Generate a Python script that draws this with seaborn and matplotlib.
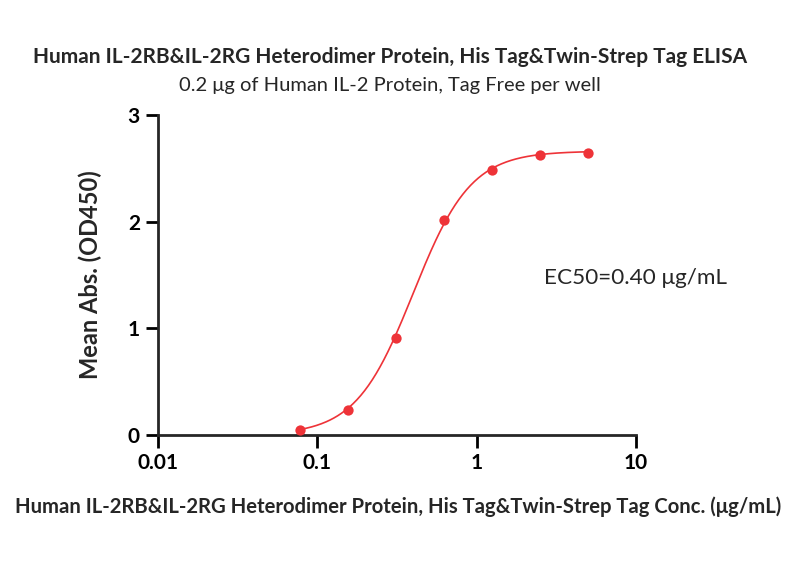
#!/usr/bin/env python3
# -*- coding: utf-8 -*-

#::: plotting settings
import seaborn as sns

sns.set_theme(context='paper', style='ticks')

#::: modules
import numpy as np
import pandas as pd
import matplotlib.pyplot as plt

plt.rcParams['font.family'] = ['Lato', 'DejaVu Sans']

###############################################################################
#::: data
###############################################################################
conc = [0.078, 0.156, 0.3125, 0.625, 1.25, 2.5, 5.0]          # ug/mL
od450 = [0.05, 0.23, 0.91, 2.01, 2.48, 2.62, 2.64]             # mean abs

# 4PL fit parameters
fit_bottom = 0.0
fit_top = 2.66
fit_ec50 = 0.40
fit_hill = 2.4

xticks = [0.01, 0.1, 1, 10]
xticklabels = ['0.01', '0.1', '1', '10']
yticks = [0, 1, 2, 3]

title = 'Human IL-2RB&IL-2RG Heterodimer Protein, His Tag&Twin-Strep Tag ELISA'
subtitle = '0.2 \u03bcg of Human IL-2 Protein, Tag Free per well'
xlabel = 'Human IL-2RB&IL-2RG Heterodimer Protein, His Tag&Twin-Strep Tag Conc. (\u03bcg/mL)'
ylabel = 'Mean Abs. (OD450)'
ec50_label = 'EC50=0.40 \u03bcg/mL'

red = '#EE3338'

###############################################################################
#::: fit curve
###############################################################################
xfit = np.logspace(np.log10(conc[0]), np.log10(conc[-1]), 300)
yfit = fit_bottom + (fit_top - fit_bottom) / (1 + (fit_ec50 / xfit) ** fit_hill)
df = pd.DataFrame({'conc': conc, 'od': od450})
dfit = pd.DataFrame({'conc': xfit, 'od': yfit})

###############################################################################
#::: plot
###############################################################################
fig = plt.figure(figsize=(8, 5.8), dpi=100)
ax = fig.add_axes([0.1975, 0.25, 0.5975, 0.552])

sns.lineplot(data=dfit, x='conc', y='od', color=red, lw=1.2, ax=ax)
sns.scatterplot(data=df, x='conc', y='od', color=red, s=55, edgecolor=red, linewidth=0, ax=ax, zorder=3)

ax.set_xscale('log')
ax.set_xlim(0.01, 10)
ax.set_ylim(0, 3)
ax.set_xticks(xticks)
ax.set_xticklabels(xticklabels)
ax.xaxis.set_minor_locator(plt.NullLocator())
ax.set_yticks(yticks)
ax.tick_params(axis='both', which='major', direction='out', length=9, width=2,
               labelsize=15, pad=4, colors='black')
for lab in ax.get_xticklabels() + ax.get_yticklabels():
    lab.set_fontweight('bold')
for side in ['left', 'bottom']:
    ax.spines[side].set_linewidth(2)
sns.despine(ax=ax)
for sp in ax.spines.values():
    sp.set_clip_on(False)

ax.set_xlabel('')
ax.set_ylabel(ylabel, fontsize=17, fontweight='bold')
ax.yaxis.set_label_coords(-0.118, 0.5)

fig.text(0.4875, 0.902, title, ha='center', va='center', fontsize=15, fontweight='bold')
fig.text(0.4875, 0.853, subtitle, ha='center', va='center', fontsize=14.5)
fig.text(0.4975, 0.126, xlabel, ha='center', va='center', fontsize=14.6, fontweight='bold')
ax.text(9.86, 1.47, ec50_label, ha='center', va='center', fontsize=16.2)

plt.savefig('out.png', dpi=100)
